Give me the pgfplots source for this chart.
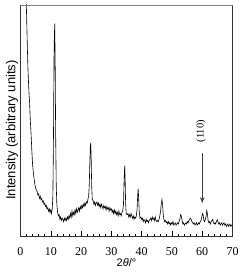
\documentclass[border=0pt]{standalone}
\usepackage{pgfplots}
\pgfplotsset{compat=1.18}
\usetikzlibrary{arrows.meta}
\usepackage{fontspec}
\setmainfont{Liberation Serif}
\setsansfont{Liberation Sans}
\begin{document}
\begin{tikzpicture}
\begin{axis}[
  at={(0,0)}, anchor=south west,
  scale only axis,
  width=212pt, height=231.7pt,
  xmin=0, xmax=70, ymin=0, ymax=100,
  axis line style={line width=0.8pt, black!80},
  xtick={0,10,...,70},
  minor x tick num=4,
  ytick=\empty,
  tick align=inside,
  xtick pos=bottom,
  major tick length=5.5pt,
  minor tick length=3pt,
  tick style={black, line width=0.5pt},
  /pgf/number format/assume math mode=true,
  xticklabel style={font=\fontsize{12}{14}\selectfont, anchor=center, yshift=-14.6pt},
  xlabel={\sffamily 2\textit{θ}/°},
  xlabel style={font=\fontsize{11}{13}\selectfont, at={(axis description cs:0.5,0)}, anchor=center, yshift=-26pt},
  ylabel={\sffamily Intensity (arbitrary units)},
  ylabel style={font=\fontsize{13}{15}\selectfont, at={(axis description cs:0,0.46)}, anchor=center, yshift=8.5pt},
  clip=true,
]
\addplot[black, line width=0.6pt] coordinates {
(1.75,115) (1.85,105) (2.0,96) (2.15,88) (2.3,80) (2.45,73) (2.6,68) (2.8,62) (3.0,58) (3.25,50) (3.5,44) (3.75,37) (4.0,31) (4.25,27.5) (4.5,25) (4.75,22.5) (5.0,21)
(5.25,20) (5.5,19.5) (5.75,18) (6.0,18.5) (6.25,16.5) (6.5,17.5) (6.75,16) (7.0,16.5) (7.25,15) (7.5,15.5) (7.75,14) (8.0,14.5) (8.25,13) (8.5,13.5) (8.75,12) (9.0,12.5) (9.25,11) (9.5,12) (9.75,10.5) (10.0,11.5) (10.25,10) (10.5,12.5)
(10.7,18) (10.9,45) (11.1,82) (11.3,92) (11.45,75) (11.6,45) (11.8,22) (12.0,14) (12.25,10.5) (12.5,9) (12.75,9.5) (13.0,7.5) (13.25,8.5) (13.5,7) (13.75,8) (14.0,7.5) (14.25,6.5) (14.5,8) (14.75,7) (15.0,8) (15.25,7) (15.5,8.5) (15.75,7.5) (16.0,9) (16.25,8) (16.5,10) (16.75,8.5) (17.0,11) (17.25,9) (17.5,10.5) (17.75,9.5) (18.0,11.5) (18.25,10) (18.5,12) (18.75,10.5) (19.0,11.5) (19.25,12.5) (19.5,11) (19.75,13) (20.0,12) (20.25,13.5) (20.5,12.5) (20.75,14) (21.0,13) (21.25,14.5) (21.5,13.5) (21.75,15) (22.0,14.5) (22.25,16) (22.5,17.5)
(22.7,22) (22.9,32) (23.05,39) (23.2,40.5) (23.35,33) (23.5,22) (23.7,16) (24.0,15.5) (24.25,14) (24.5,15) (24.75,13.5) (25.0,14.5) (25.25,15) (25.5,13.5) (25.75,14.5) (26.0,13) (26.25,14) (26.5,12.5) (26.75,14) (27.0,13) (27.25,12) (27.5,13.5) (27.75,12.5) (28.0,13) (28.25,11.5) (28.5,13) (28.75,12) (29.0,12.5) (29.25,11) (29.5,12.5) (29.75,11.5) (30.0,12) (30.25,10.5) (30.5,11.5) (30.75,10) (31.0,11.5) (31.25,10) (31.5,11) (31.75,9.5) (32.0,10.5) (32.25,9) (32.5,11) (32.75,9.5) (33.0,10) (33.25,9) (33.5,10.5) (33.75,11)
(34.0,14) (34.2,24) (34.4,30.7) (34.55,25) (34.7,15) (34.9,10) (35.25,9.5) (35.5,10) (35.75,8.5) (36.0,9.5) (36.25,8.5) (36.5,10) (36.75,9) (37.0,8) (37.25,9) (37.5,7.5) (37.75,8.5) (38.0,8) (38.25,9) (38.5,12) (38.7,18) (38.85,20.7) (39.0,17) (39.2,11) (39.45,8) (39.75,8.5) (40.0,7.5) (40.25,8) (40.5,6.5) (40.75,7.5) (41.0,7) (41.25,6) (41.5,7.5) (41.75,6.5) (42.0,7) (42.25,6) (42.5,7) (42.75,7.5) (43.0,8) (43.25,7) (43.5,8.5) (43.75,7.5) (44.0,8) (44.25,7) (44.5,8.5) (44.75,7) (45.0,6.5) (45.25,7) (45.5,6.5) (45.75,7.5) (46.0,9) (46.25,11) (46.5,14.5) (46.7,16) (46.9,14) (47.1,10) (47.35,7.5) (47.6,6.5) (47.85,7) (48.1,6) (48.35,6.5) (48.6,5.5) (48.85,6.5) (49.1,5.5) (49.35,6) (49.6,5) (49.85,6) (50.1,5.5) (50.35,6.5) (50.6,5) (50.85,5.5) (51.1,6) (51.35,5) (51.6,5.5) (51.85,6) (52.1,5.5) (52.35,6.5) (52.6,7.5) (52.85,9.5) (53.1,9) (53.35,7) (53.6,5.5) (53.85,6) (54.1,5) (54.35,5.5) (54.6,6) (54.85,5.5) (55.1,6.5) (55.35,6) (55.6,7) (55.85,7.5) (56.1,8) (56.35,7.5) (56.6,6.5) (56.85,6) (57.1,5.5) (57.35,6) (57.6,5) (57.85,5.5) (58.1,6) (58.35,5) (58.6,5.5) (58.85,6) (59.1,5.5) (59.35,6.5) (59.6,7) (59.85,8.5) (60.1,10) (60.3,9.5) (60.55,7) (60.8,6.5) (61.05,7.5) (61.3,9) (61.5,11.3) (61.7,10) (61.95,7) (62.2,6) (62.45,6.5) (62.7,5.5) (62.95,6.5) (63.2,7) (63.45,7.5) (63.7,6) (63.95,5.5) (64.2,6) (64.45,5.5) (64.7,6.5) (64.95,7.3) (65.2,6.5) (65.45,5.5) (65.7,6) (65.95,5) (66.2,5.5) (66.45,6) (66.7,5) (66.95,5.5) (67.2,6) (67.45,5) (67.7,5.5) (67.95,4.5) (68.2,5) (68.45,5.5) (68.7,4.5) (68.95,5) (69.2,5.5) (69.45,4.5) (69.7,5) (70,4.5)
};
\draw[gray, line width=0.9pt] (rel axis cs:0,1) -- (rel axis cs:1,1);
\draw[black!75, line width=0.5pt, -{Stealth[length=6pt,width=4.5pt]}] (axis cs:60,36) -- (axis cs:60,14.5);
\node[rotate=90, font=\fontsize{10.5}{12}\selectfont, inner sep=0pt] at (axis cs:59.6,45.5) {(110)};
\end{axis}
\pgfresetboundingbox
\path (-20.5pt,-36.3pt) rectangle (221.5pt,236.7pt);
\end{tikzpicture}
\end{document}
